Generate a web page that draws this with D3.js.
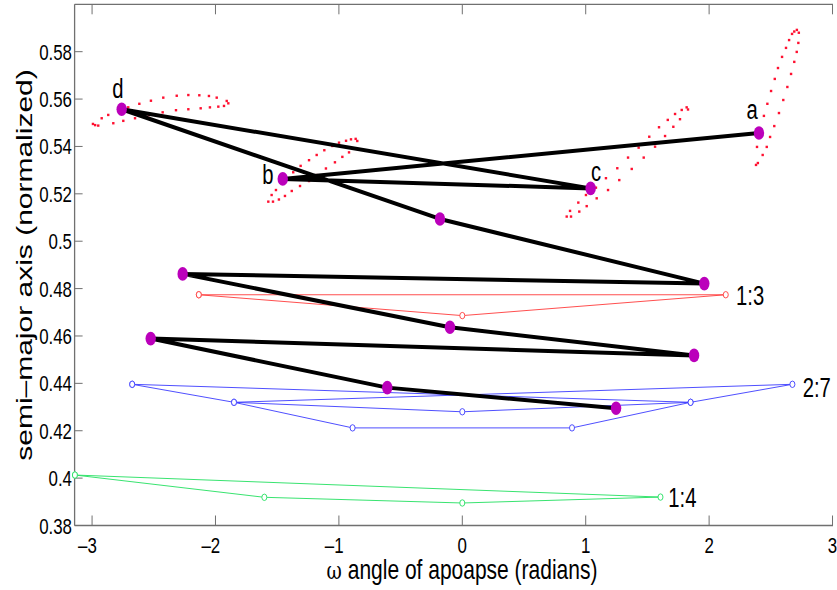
<!DOCTYPE html>
<html>
<head>
<meta charset="utf-8">
<script src="https://cdn.jsdelivr.net/npm/d3@7"></script>
<style>
  body { margin: 0; background: #fff; }
  svg { display: block; overflow: hidden; }
  text { font-family: "Liberation Sans", Arial, Helvetica, sans-serif; fill: #000; }
</style>
</head>
<body>
<script>
// tick values
const xTicks = [-3, -2, -1, 0, 1, 2, 3]
const yTicks = [0.38, 0.4, 0.42, 0.44, 0.46, 0.48, 0.5, 0.52, 0.54, 0.56, 0.58]

// thick black path through the apoapse positions (omega, semi-major axis)
const pathOmega = [2.404, -1.455, 1.040, -2.760, -0.181, 1.961, -2.266, -0.100, 1.878, -2.525, -0.608, 1.246]
const pathSemi = [0.5457, 0.5263, 0.5223, 0.5557, 0.5094, 0.4821, 0.4862, 0.4637, 0.4518, 0.4589, 0.4382, 0.4295]

// resonance orbits
const res13Omega = [-2.135, 0, 2.135, -2.135]
const res13Semi = [0.4774, 0.4686, 0.4774, 0.4774]
const res27Omega = [-2.675, -1.850, -0.889, 0.889, 1.850, 2.675, -1.850, 0, 1.850, -2.675]
const res27Semi = [0.4396, 0.4320, 0.4212, 0.4212, 0.4320, 0.4396, 0.4320, 0.4280, 0.4320, 0.4396]
const res14Omega = [-3.139, -1.604, 0, 1.606, -3.139]
const res14Semi = [0.4013, 0.3919, 0.3895, 0.3920, 0.4013]

// dotted libration loops around a, b, c, d
const loopA = [[2.380, 0.5322], [2.388, 0.5398], [2.404, 0.5458], [2.444, 0.5529], [2.472, 0.5580], [2.502, 0.5634],
  [2.532, 0.5685], [2.558, 0.5731], [2.591, 0.5778], [2.623, 0.5816], [2.648, 0.5849], [2.672, 0.5875], [2.690, 0.5885],
  [2.711, 0.5892], [2.727, 0.5880], [2.723, 0.5837], [2.710, 0.5799], [2.690, 0.5757], [2.664, 0.5706], [2.634, 0.5651],
  [2.601, 0.5596], [2.566, 0.5541], [2.528, 0.5486], [2.494, 0.5440], [2.467, 0.5398], [2.434, 0.5364], [2.395, 0.5330]]
const loopB = [[-1.572, 0.5167], [-1.545, 0.5195], [-1.510, 0.5216], [-1.370, 0.5291], [-1.310, 0.5318], [-1.242, 0.5342],
  [-1.180, 0.5364], [-1.118, 0.5384], [-1.053, 0.5402], [-0.999, 0.5416], [-0.942, 0.5424], [-0.902, 0.5430], [-0.864, 0.5432],
  [-0.851, 0.5423], [-0.918, 0.5375], [-0.972, 0.5356], [-1.032, 0.5333], [-1.105, 0.5307], [-1.178, 0.5279], [-1.242, 0.5254],
  [-1.315, 0.5233], [-1.382, 0.5212], [-1.437, 0.5191], [-1.486, 0.5176], [-1.534, 0.5167]]
const loopC = [[0.846, 0.5104], [0.873, 0.5128], [0.940, 0.5163], [1.002, 0.5195], [1.083, 0.5226], [1.164, 0.5266],
  [1.256, 0.5308], [1.343, 0.5353], [1.429, 0.5395], [1.515, 0.5441], [1.594, 0.5481], [1.665, 0.5512], [1.724, 0.5537],
  [1.778, 0.5554], [1.818, 0.5565], [1.829, 0.5556], [1.764, 0.5515], [1.710, 0.5483], [1.643, 0.5444], [1.562, 0.5399],
  [1.470, 0.5353], [1.373, 0.5305], [1.272, 0.5258], [1.181, 0.5216], [1.089, 0.5181], [1.008, 0.5148], [0.948, 0.5125], [0.881, 0.5104]]
const loopD = [[-2.993, 0.5495], [-2.922, 0.5519], [-2.869, 0.5533], [-2.707, 0.5565], [-2.617, 0.5580], [-2.523, 0.5593],
  [-2.423, 0.5606], [-2.314, 0.5614], [-2.220, 0.5617], [-2.131, 0.5616], [-2.053, 0.5613], [-1.990, 0.5606], [-1.909, 0.5592],
  [-1.896, 0.5582], [-1.931, 0.5571], [-1.977, 0.5568], [-2.045, 0.5565], [-2.120, 0.5561], [-2.220, 0.5557], [-2.320, 0.5553],
  [-2.428, 0.5544], [-2.541, 0.5532], [-2.652, 0.5519], [-2.747, 0.5508], [-2.828, 0.5498], [-2.950, 0.5488], [-2.975, 0.5490]]

// point labels
const pointLabels = ['a', 'b', 'c', 'd']
const pointLabelOmega = [2.348, -1.575, 1.083, -2.790]
const pointLabelSemi = [0.5516, 0.5242, 0.5256, 0.5605]
const resLabels = ['1:3', '2:7', '1:4']
const resLabelOmega = [2.218, 2.758, 1.669]
const resLabelSemi = [0.4731, 0.4344, 0.3880]

const fullWidth = 837
const fullHeight = 590
const plot = { left: 74.6, right: 850, top: 4.3, bottom: 525.5 }
const cropRight = 833 // the original figure is cut off here
const squeeze = 0.75
const axisColor = '#707070'

const svg = d3.select('body')
  .append('svg')
  .attr('width', fullWidth)
  .attr('height', fullHeight)

const x = d3.scaleLinear().domain([-Math.PI, Math.PI]).range([plot.left, plot.right])
const y = d3.scaleLinear().domain([0.38, 0.6]).range([plot.bottom, plot.top])

function label(g, px, py, txt, size, anchor) {
  return g.append('text')
    .attr('transform', `translate(${px},${py}) scale(${squeeze},1)`)
    .attr('text-anchor', anchor)
    .attr('font-size', size)
    .text(txt)
}

// axes box
const axes = svg.append('g')
axes.append('line').attr('x1', plot.left).attr('x2', cropRight).attr('y1', plot.top).attr('y2', plot.top)
axes.append('line').attr('x1', plot.left).attr('x2', cropRight).attr('y1', plot.bottom).attr('y2', plot.bottom)
axes.append('line').attr('x1', plot.left).attr('x2', plot.left).attr('y1', plot.top).attr('y2', plot.bottom)
axes.selectAll('line').attr('stroke', axisColor).attr('stroke-width', 1.3)

xTicks.forEach(t => {
  axes.append('line').attr('x1', x(t)).attr('x2', x(t)).attr('y1', plot.bottom).attr('y2', plot.bottom - 10)
    .attr('stroke', axisColor).attr('stroke-width', 1)
  axes.append('line').attr('x1', x(t)).attr('x2', x(t)).attr('y1', plot.top).attr('y2', plot.top + 10)
    .attr('stroke', axisColor).attr('stroke-width', 1)
  label(axes, x(t) + 4.7, 552.5, (t < 0 ? '\u2013' : '') + Math.abs(t), 22.5, 'end')
})

yTicks.forEach(t => {
  axes.append('line').attr('x1', plot.left).attr('x2', plot.left + 8).attr('y1', y(t)).attr('y2', y(t))
    .attr('stroke', axisColor).attr('stroke-width', 1)
  label(axes, 72, y(t) + 8, d3.format('')(+t.toFixed(2)), 22.5, 'end')
})

// axis titles
const xl = label(svg, 462, 579, '', 28, 'middle')
xl.append('tspan').attr('font-family', '"DejaVu Serif", serif').attr('font-size', 25).text('\u03c9')
xl.append('tspan').text(' angle of apoapse (radians)')

svg.append('text')
  .attr('transform', `translate(32,265) rotate(-90) scale(1,${squeeze})`)
  .attr('text-anchor', 'middle')
  .attr('font-size', 30)
  .text('semi\u2013major axis (normalized)')

const g = svg.append('g')

// resonance polylines
const res = [
  { om: res13Omega, a: res13Semi, color: '#ff3b3b' },
  { om: res27Omega, a: res27Semi, color: '#3b3bff' },
  { om: res14Omega, a: res14Semi, color: '#22e060' }
]
const thinLine = d3.line().x(d => x(d[0])).y(d => y(d[1]))
res.forEach(r => {
  const pts = r.om.map((o, i) => [o, r.a[i]])
  g.append('path')
    .attr('d', thinLine(pts))
    .attr('fill', 'none')
    .attr('stroke', r.color)
    .attr('stroke-width', 0.9)
  g.selectAll(null)
    .data(pts)
    .enter().append('ellipse')
    .attr('cx', d => x(d[0]))
    .attr('cy', d => y(d[1]))
    .attr('rx', 2.5)
    .attr('ry', 3.2)
    .attr('fill', '#fff')
    .attr('stroke', r.color)
    .attr('stroke-width', 0.9)
})

// dotted loops
const loops = [loopA, loopB, loopC, loopD]
loops.forEach(loop => {
  g.selectAll(null)
    .data(loop)
    .enter().append('rect')
    .attr('x', d => x(d[0]) - 1.2)
    .attr('y', d => y(d[1]) - 1.2)
    .attr('width', 2.4)
    .attr('height', 2.4)
    .attr('fill', '#ff1030')
})

// thick black path
const pathPts = pathOmega.map((o, i) => [o, pathSemi[i]])
g.append('path')
  .attr('d', thinLine(pathPts))
  .attr('fill', 'none')
  .attr('stroke', '#000')
  .attr('stroke-width', 4)
  .attr('stroke-linejoin', 'round')

g.selectAll('.apo')
  .data(pathPts)
  .enter().append('ellipse')
  .attr('class', 'apo')
  .attr('cx', d => x(d[0]))
  .attr('cy', d => y(d[1]))
  .attr('rx', 5.2)
  .attr('ry', 6.8)
  .attr('fill', '#bb00bb')

pointLabels.forEach((t, i) => {
  label(g, x(pointLabelOmega[i]), y(pointLabelSemi[i]), t, 27, 'middle')
})
resLabels.forEach((t, i) => {
  label(g, x(resLabelOmega[i]), y(resLabelSemi[i]), t, 27, 'start')
})
</script>
</body>
</html>
